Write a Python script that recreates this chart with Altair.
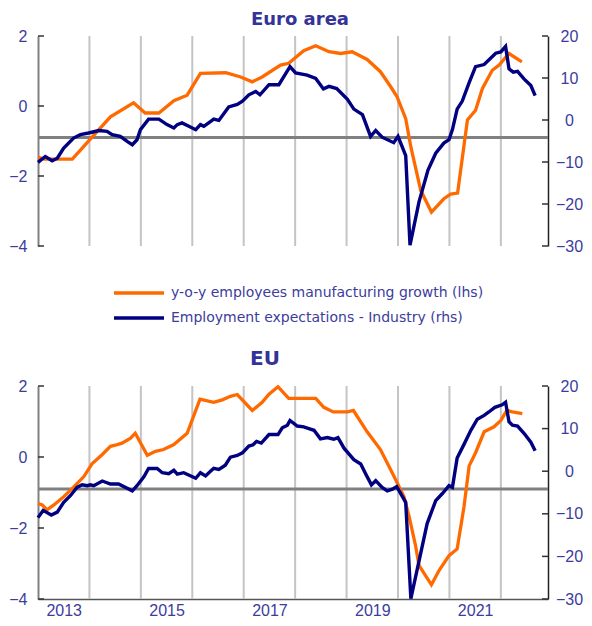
import altair as alt
import pandas as pd

# ---------------- data (x = months since Jan 2013) ----------------
SERIES = ["y-o-y employees manufacturing growth (lhs)",
          "Employment expectations - Industry (rhs)"]

ea_orange_m = [0, 1.5, 8, 16.9, 22.3, 25, 28.2, 31.7, 34.8, 37.9, 43.8, 47.3, 50, 52.3,
               56.6, 58.5, 62, 64.8, 67.9, 70.6, 73.3, 76.8, 79.9, 82.3, 83.8, 85.8, 87,
               89.3, 91.8, 94.7, 96.3, 97.9, 100.2, 102.1, 103.7, 106, 107.6, 109.9, 112.9]
ea_orange_v = [-1.46, -1.52, -1.52, -0.31, 0.09, -0.2, -0.2, 0.15, 0.31, 0.93, 0.95, 0.83,
               0.69, 0.83, 1.17, 1.22, 1.58, 1.72, 1.55, 1.5, 1.55, 1.33, 0.98, 0.55, 0.26,
               -0.36, -1.17, -2.41, -3.03, -2.65, -2.52, -2.49, -0.4, -0.12, 0.5, 1.02, 1.17,
               1.5, 1.26]

ea_blue_m = [0, 1.7, 3.3, 4.5, 6, 8.3, 9.9, 11.8, 14.2, 16.1, 17.3, 19.2, 20.8, 22, 23.1,
             23.9, 25.8, 28.2, 30.1, 31.7, 32.5, 33.6, 35.2, 36.8, 37.9, 38.7, 40.3, 41,
             42.2, 44.5, 46.5, 47.7, 49.2, 50.8, 51.8, 53.9, 56.2, 57.4, 58.8, 60.1, 62.8,
             64.8, 66.6, 67.9, 69.7, 72.2, 73.7, 75.7, 77.6, 78.8, 80.3, 83, 84, 85.8, 86.8,
             88.9, 91, 92.8, 94.7, 95.9, 96.7, 97.8, 99, 100.6, 102.1, 104.1, 106.8, 108,
             109.1, 109.9, 110.9, 111.9, 113.4, 115, 116]
ea_blue_v = [-10.1, -8.7, -9.7, -9.1, -6.7, -4.3, -3.5, -3.1, -2.5, -2.7, -3.5, -3.9, -5.1,
             -5.9, -4.7, -2.3, 0.2, 0.2, -1.1, -1.9, -1.1, -0.7, -1.5, -2.3, -1.1, -1.5,
             -0.3, 0.2, -0.1, 3.1, 3.7, 4.5, 6.0, 6.8, 6.0, 8.4, 8.4, 10.4, 12.7, 11.2, 10.7,
             9.9, 7.4, 8.0, 7.5, 4.9, 2.6, 1.3, -3.9, -2.5, -4.1, -5.4, -3.9, -8.5, -29.8,
             -19.5, -11.9, -7.9, -5.5, -4.7, -2.3, 2.6, 4.5, 8.9, 12.7, 13.2, 15.9, 16.2,
             17.5, 12.2, 11.4, 11.6, 9.8, 8.2, 5.8]

eu_orange_m = [0, 1, 2.1, 3.7, 6, 8.3, 10.7, 12.6, 15, 16.9, 18.5, 19.6, 21.6, 22.7, 25.5,
               27.4, 29.3, 31.7, 34.8, 37.8, 41, 43, 44.9, 46.5, 50, 52.3, 53.9, 56, 58.5,
               64.8, 66.7, 68.9, 72.2, 73.6, 76.8, 79.9, 83, 85.4, 86.6, 88.1, 88.9, 91.8,
               93.6, 95.9, 97.8, 99.4, 100.6, 102.1, 104.1, 106.4, 108, 109.4, 110.7, 113]
eu_orange_v = [-1.31, -1.35, -1.49, -1.35, -1.12, -0.85, -0.55, -0.19, 0.07, 0.3, 0.35,
               0.39, 0.53, 0.67, 0.05, 0.16, 0.21, 0.35, 0.67, 1.63, 1.54, 1.61, 1.71, 1.76,
               1.31, 1.54, 1.77, 1.98, 1.65, 1.65, 1.4, 1.27, 1.27, 1.31, 0.71, 0.21, -0.53,
               -1.12, -1.68, -2.5, -3.05, -3.6, -3.19, -2.78, -2.59, -1.4, -0.25, 0.12, 0.71,
               0.85, 1.03, 1.31, 1.27, 1.22]

eu_blue_m = [0, 1.2, 3.1, 4.5, 6, 7.6, 9.1, 10.3, 11.5, 12.2, 13, 15, 16.9, 18.8, 22, 23.1,
             24.7, 25.8, 27.8, 29, 30.5, 31.7, 32.5, 34, 36.8, 37.9, 39.1, 40.3, 41, 42.2,
             43.7, 44.9, 46.5, 47.7, 49.2, 50.2, 51, 52.1, 53.9, 56, 57, 58.2, 58.8, 60.5,
             62, 63.2, 64.4, 65.9, 67.5, 69, 70, 71.4, 73.7, 75.3, 76.5, 77.8, 78.8, 80.3,
             81.5, 82.7, 83.7, 85.8, 87, 88.9, 90.8, 92.8, 94.3, 95.9, 96.7, 97.8, 99.4, 101,
             102.5, 104.1, 105.2, 106.6, 108.3, 109.1, 109.9, 110.7, 111.9, 113.4, 115, 116]
eu_blue_v = [-10.9, -9.2, -10.3, -9.6, -7.3, -5.7, -3.8, -3.2, -3.4, -3.2, -3.4, -2.3, -3.0,
             -3.0, -4.6, -3.4, -1.3, 0.65, 0.65, -0.35, -0.6, 0.2, -0.7, -0.35, -1.65, -0.35,
             -1.1, 0.05, 0.65, 0.4, 1.4, 3.3, 3.7, 4.3, 5.9, 6.2, 7.0, 6.6, 8.6, 8.6, 10.2,
             10.8, 11.9, 10.6, 10.4, 10.0, 9.6, 7.6, 7.9, 7.5, 7.9, 5.4, 2.7, 1.7, -0.7, -3.2,
             -2.2, -3.8, -4.6, -4.2, -3.6, -7.3, -29.9, -21.1, -12.3, -6.9, -5.3, -3.4, -3.8,
             3.1, 6.3, 9.6, 12.2, 13.1, 13.9, 15.0, 15.6, 16.2, 11.6, 10.8, 10.6, 8.9, 6.8,
             4.8]

year_starts = [12, 24, 36, 48, 60, 72, 84, 96, 108]     # 1 Jan 2014 ... 1 Jan 2022
year_label_pos = [6, 30, 54, 78, 102]                  # mid 2013, 2015, ...
lhs_ticks = [-4, -2, 0, 2]
rhs_ticks = [-30, -20, -10, 0, 10, 20]
ref_level = [-0.9]

# ---------------- style ----------------
ORANGE = "#FF6A00"
NAVY = "#000080"
LABEL = "#3C3C9C"
TITLE = "#333399"
FONT = "Liberation Sans"
W = 510


def panel(title, om, ov, bm, bv, height, bottom_axis, show_legend, title_offset,
          title_dx, title_size):
    xs = alt.Scale(domain=[0, 119], nice=False, zero=False)
    ly = alt.Scale(domain=[-4, 2], nice=False, zero=False)
    ry = alt.Scale(domain=[-30, 20], nice=False, zero=False)
    if bottom_axis:
        xaxis = alt.Axis(values=year_label_pos,
                         labelExpr="toString(2013 + floor(datum.value / 12))",
                         ticks=False, grid=False, domain=True, domainColor="#555555",
                         domainWidth=1.5, labelFont=FONT, labelFontSize=16,
                         labelColor=LABEL, labelPadding=3, title=None)
    else:
        xaxis = None
    laxis = alt.Axis(values=lhs_ticks, ticks=False, grid=False, domainColor="#808080",
                     domainWidth=2, labelFont=FONT, labelFontSize=16, labelColor=LABEL,
                     labelPadding=11, title=None)
    raxis = alt.Axis(orient="right", values=rhs_ticks, ticks=False, grid=False,
                     domainColor="#222222", domainWidth=1.5, labelFont=FONT,
                     labelFontSize=16, labelColor=LABEL, labelAlign="center",
                     labelPadding=21, title=None)
    color = alt.Color("s:N", scale=alt.Scale(domain=SERIES, range=[ORANGE, NAVY]),
                      legend=alt.Legend(orient="none", legendX=94, legendY=250,
                                        direction="vertical", title=None,
                                        symbolType="M-5,0H5", symbolSize=100,
                                        symbolStrokeWidth=3.5, labelFont="DejaVu Sans",
                                        labelFontSize=14, labelColor=LABEL,
                                        labelLimit=0, labelOffset=25, rowPadding=11,
                                        padding=0)
                      if show_legend else None)

    grid = alt.Chart(pd.DataFrame({"m": year_starts})).mark_rule(
        color="#C4C4C4", strokeWidth=2).encode(x=alt.X("m:Q", scale=xs, axis=xaxis))
    ref = alt.Chart(pd.DataFrame({"v": ref_level})).mark_rule(
        color="#808080", strokeWidth=3).encode(y=alt.Y("v:Q", scale=ly, axis=laxis))
    lt = alt.Chart(pd.DataFrame({"v": lhs_ticks})).mark_rule(
        color="#333333", strokeWidth=1.5).encode(
        y=alt.Y("v:Q", scale=ly, axis=laxis), x=alt.value(0), x2=alt.value(6))
    odf = pd.DataFrame({"m": om, "v": ov, "s": SERIES[0]})
    orange = alt.Chart(odf).mark_line(strokeWidth=3.3).encode(
        x=alt.X("m:Q", scale=xs, axis=xaxis),
        y=alt.Y("v:Q", scale=ly, axis=laxis), color=color)
    left = alt.layer(grid, ref, lt, orange)

    bdf = pd.DataFrame({"m": bm, "v": bv, "s": SERIES[1]})
    blue = alt.Chart(bdf).mark_line(strokeWidth=3.4).encode(
        x=alt.X("m:Q", scale=xs, axis=xaxis),
        y=alt.Y("v:Q", scale=ry, axis=raxis), color=color)
    rt = alt.Chart(pd.DataFrame({"v": rhs_ticks})).mark_rule(
        color="#333333", strokeWidth=1.5).encode(
        y=alt.Y("v:Q", scale=ry, axis=raxis), x=alt.value(W - 6), x2=alt.value(W))
    right = alt.layer(blue, rt)

    return alt.layer(left, right).resolve_scale(y="independent").properties(
        width=W, height=height,
        title=alt.TitleParams(title, fontSize=title_size, fontWeight="bold", color=TITLE,
                              font="DejaVu Sans", anchor="middle", frame="group",
                              dx=title_dx, offset=title_offset))


top = panel("Euro area", ea_orange_m, ea_orange_v, ea_blue_m, ea_blue_v, 210, False, True,
            -1, 7, 18)
bottom = panel("EU", eu_orange_m, eu_orange_v, eu_blue_m, eu_blue_v, 213, True, False,
               9, -28, 20)

chart = alt.vconcat(top, bottom, spacing=24).resolve_scale(color="independent").properties(
    padding={"left": 0, "top": 3, "right": 0, "bottom": -1}
).configure_view(stroke=None)

chart.save("out.html", embed_options={"renderer": "svg", "actions": False})
